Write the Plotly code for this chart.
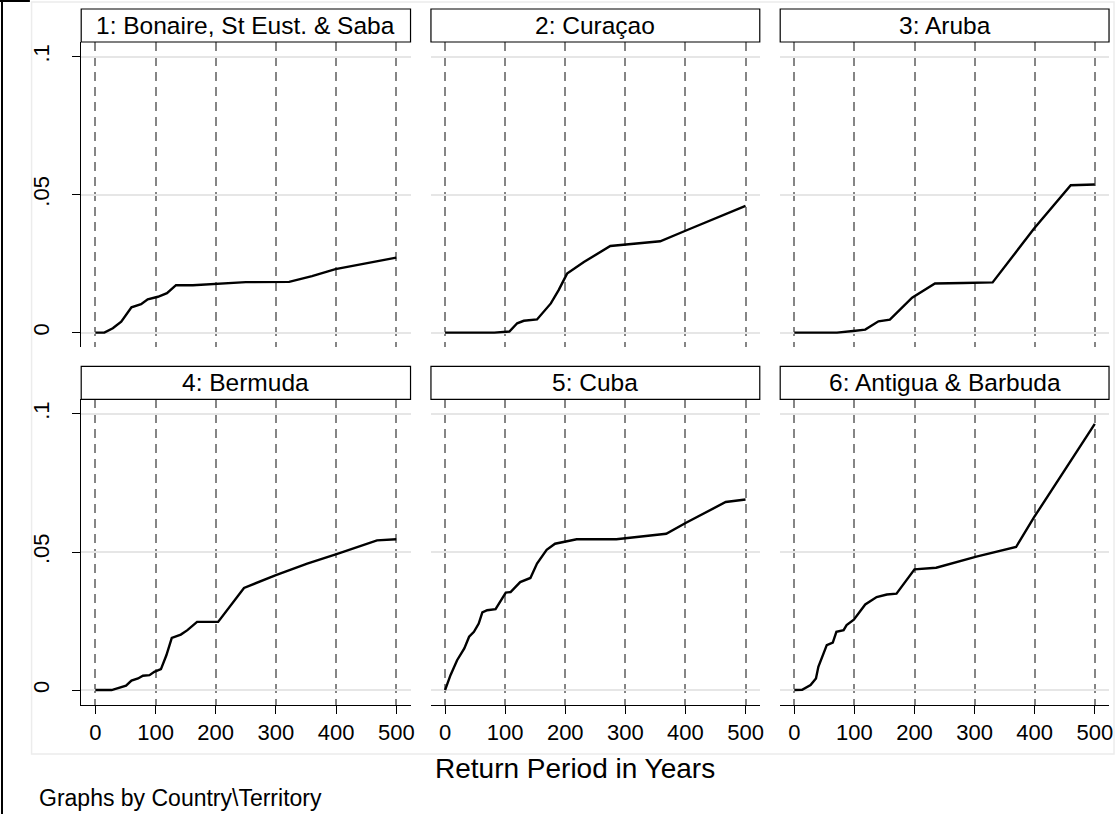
import plotly.graph_objects as go
from plotly.subplots import make_subplots

W, H = 1120, 814

# ---- data ----
titles = ["1: Bonaire, St Eust. & Saba", "2: Curaçao", "3: Aruba",
          "4: Bermuda", "5: Cuba", "6: Antigua & Barbuda"]

bonaire_x = [0, 15, 29, 43, 60, 76, 87, 104, 119, 134, 162, 200, 250, 322, 360, 399, 500]
bonaire_y = [0, 0, 0.0016, 0.0040, 0.0092, 0.0103, 0.0121, 0.0130, 0.0143, 0.0172,
             0.0172, 0.0176, 0.0183, 0.0184, 0.0205, 0.0230, 0.0272]

curacao_x = [0, 82, 107, 120, 131, 153, 176, 189, 203, 231, 275, 302, 358, 402, 500]
curacao_y = [0, 0, 0.0004, 0.0034, 0.0043, 0.0048, 0.0106, 0.0154, 0.0214, 0.0256,
             0.0314, 0.0320, 0.0331, 0.0371, 0.0459]

aruba_x = [0, 71, 98, 118, 140, 159, 196, 234, 281, 330, 399, 460, 500]
aruba_y = [0, 0, 0.0006, 0.0011, 0.0041, 0.0047, 0.0127, 0.0178, 0.0180, 0.0182,
           0.0377, 0.0534, 0.0537]

bermuda_x = [0, 27, 51, 60, 71, 79, 90, 98, 109, 118, 127, 142, 153, 169, 204, 247,
             300, 352, 402, 468, 500]
bermuda_y = [0, 0, 0.0016, 0.0034, 0.0042, 0.0052, 0.0054, 0.0066, 0.0076, 0.0126,
             0.0189, 0.0201, 0.0217, 0.0247, 0.0247, 0.0370, 0.0416, 0.0458, 0.0493,
             0.0542, 0.0546]

cuba_x = [0, 9, 20, 32, 40, 48, 56, 62, 70, 84, 101, 109, 125, 142, 153, 169, 183,
          200, 219, 285, 335, 368, 401, 467, 500]
cuba_y = [0, 0.0054, 0.0108, 0.0151, 0.0193, 0.0211, 0.0241, 0.0281, 0.0289, 0.0293,
          0.0353, 0.0355, 0.0391, 0.0406, 0.0458, 0.0508, 0.0530, 0.0538, 0.0546,
          0.0546, 0.0557, 0.0566, 0.0606, 0.0681, 0.0690]

antigua_x = [0, 13, 27, 36, 40, 46, 54, 64, 70, 82, 87, 99, 118, 137, 154, 170, 200,
             236, 303, 369, 399, 500]
antigua_y = [0, 0.0001, 0.0018, 0.0042, 0.0084, 0.0120, 0.0163, 0.0172, 0.0211,
             0.0217, 0.0235, 0.0255, 0.0310, 0.0337, 0.0346, 0.0349, 0.0437, 0.0443,
             0.0483, 0.0518, 0.0626, 0.0964]

series = [(bonaire_x, bonaire_y), (curacao_x, curacao_y), (aruba_x, aruba_y),
          (bermuda_x, bermuda_y), (cuba_x, cuba_y), (antigua_x, antigua_y)]

x_ticks = [0, 100, 200, 300, 400, 500]
y_ticks = [0, 0.05, 0.1]
y_ticktext = ["0", ".05", ".1"]

FONT = "Liberation Sans, Arial, sans-serif"

# panel geometry in pixels
col_px = [(81.5, 412), (432.5, 762.5), (783, 1113)]
row_px = [(42, 347.3), (399.3, 704.7)]   # plot area top/bottom
strip_h = 33

fig = make_subplots(rows=2, cols=3)

for i, (xs, ys) in enumerate(series):
    r, c = i // 3 + 1, i % 3 + 1
    fig.add_trace(go.Scatter(x=xs, y=ys, mode="lines",
                             line=dict(color="black", width=2.4),
                             showlegend=False, hoverinfo="skip"), row=r, col=c)

shapes = []
annotations = []
for i in range(6):
    r, c = i // 3, i % 3
    x0, x1 = col_px[c]
    top, bot = row_px[r]
    dom_x = [x0 / W, x1 / W]
    dom_y = [1 - bot / H, 1 - top / H]
    n = "" if i == 0 else str(i + 1)
    fig.layout["xaxis" + n].update(
        domain=dom_x, range=[-23.5, 523.7],
        showgrid=True, gridcolor="#858585", gridwidth=2, griddash="9px,6px",
        tickvals=x_ticks, zeroline=False,
        showline=(r == 1), linecolor="black", linewidth=1.3,
        ticks="outside" if r == 1 else "", ticklen=8, tickcolor="black",
        showticklabels=(r == 1),
        tickfont=dict(family=FONT, size=22, color="black"),
    )
    fig.layout["yaxis" + n].update(
        domain=dom_y, range=[-0.0053, 0.1053],
        showgrid=True, gridcolor="#e6e6e6", gridwidth=1.5,
        tickvals=y_ticks, ticktext=y_ticktext, zeroline=False,
        showline=(c == 0), linecolor="black", linewidth=1.3,
        ticks="outside" if c == 0 else "", ticklen=8, tickcolor="black",
        showticklabels=(c == 0), tickangle=-90, ticklabelstandoff=14,
        tickfont=dict(family=FONT, size=22, color="black"),
    )
    # strip header
    shapes.append(dict(type="rect", xref="paper", yref="paper",
                       x0=x0 / W, x1=x1 / W,
                       y0=1 - top / H, y1=1 - (top - strip_h) / H,
                       line=dict(color="black", width=1.2), fillcolor="white"))
    annotations.append(dict(text=titles[i], xref="paper", yref="paper",
                            x=(x0 + x1) / 2 / W, y=1 - (top - strip_h / 2) / H,
                            xanchor="center", yanchor="middle", showarrow=False,
                            font=dict(family=FONT, size=24.5, color="black")))

# light outer frame of the graph region
shapes.append(dict(type="rect", xref="paper", yref="paper",
                   x0=31.7 / W, x1=1118 / W, y0=1 - 754 / H, y1=1 - 2 / H,
                   line=dict(color="#ececec", width=1.5), fillcolor="rgba(0,0,0,0)",
                   layer="below"))
# black image border on the left / top-left
shapes.append(dict(type="line", xref="paper", yref="paper",
                   x0=2 / W, x1=2 / W, y0=0, y1=1, line=dict(color="black", width=2)))
shapes.append(dict(type="line", xref="paper", yref="paper",
                   x0=0, x1=30 / W, y0=1 - 1 / H, y1=1 - 1 / H,
                   line=dict(color="black", width=2)))

annotations.append(dict(text="Return Period in Years", xref="paper", yref="paper",
                        x=577 / W, y=1 - 768 / H, xanchor="center", yanchor="middle",
                        showarrow=False, font=dict(family=FONT, size=28, color="black")))
annotations.append(dict(text="Graphs by Country\\Territory", xref="paper", yref="paper",
                        x=36.7 / W, y=1 - 798 / H, xanchor="left", yanchor="middle",
                        showarrow=False, font=dict(family=FONT, size=23, color="black")))

fig.update_layout(
    width=W, height=H,
    margin=dict(l=0, r=0, t=0, b=0),
    paper_bgcolor="white", plot_bgcolor="white",
    shapes=shapes, annotations=annotations,
    showlegend=False,
)

# drop the browser's default 8px body margin so the figure sits at (0, 0)
fig.write_html("out.html", config={"displayModeBar": False},
               post_script="document.body.style.margin='0';")
